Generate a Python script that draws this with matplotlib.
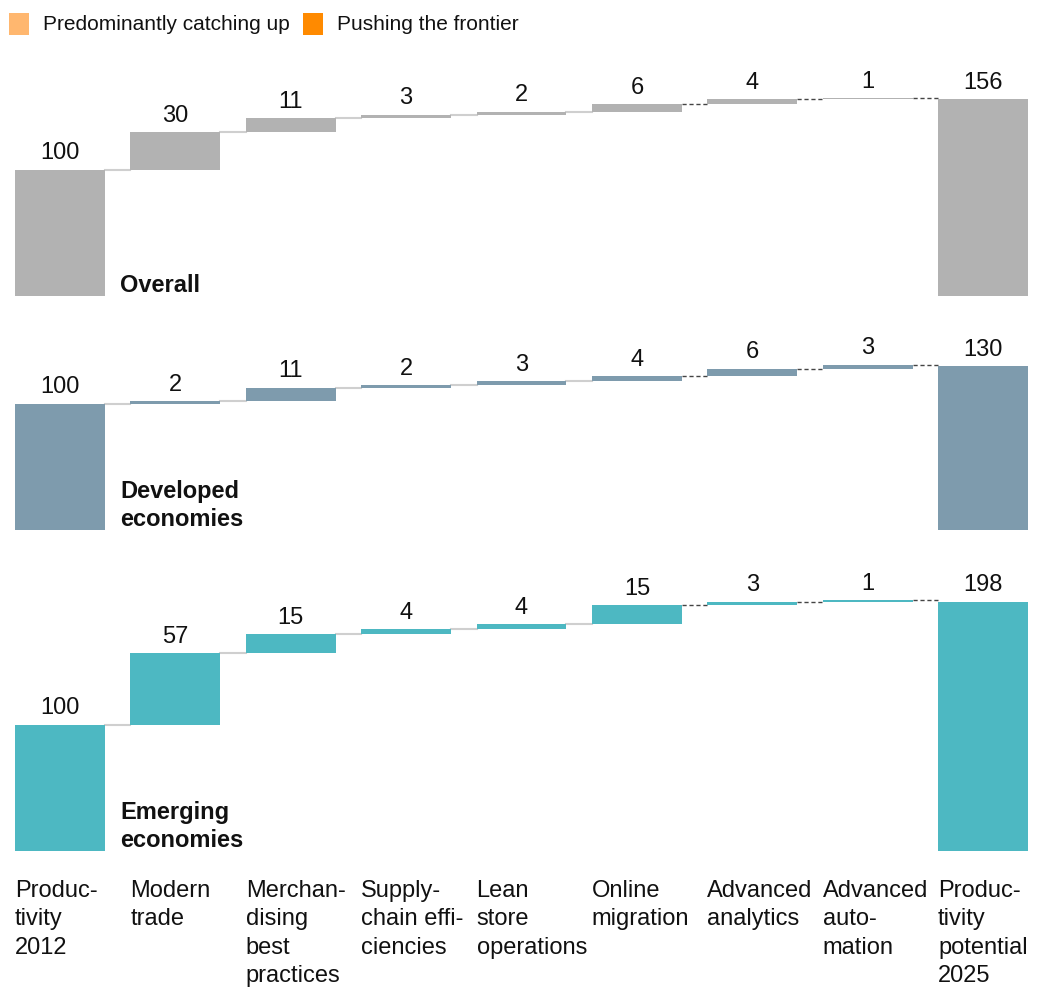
import matplotlib
matplotlib.use("Agg")
import matplotlib.pyplot as plt
from matplotlib.patches import Rectangle

plt.rcParams['font.family'] = ['Liberation Sans', 'DejaVu Sans']

# ---------------- data ----------------
categories = ["Produc-\ntivity\n2012", "Modern\ntrade", "Merchan-\ndising\nbest\npractices",
              "Supply-\nchain effi-\nciencies", "Lean\nstore\noperations", "Online\nmigration",
              "Advanced\nanalytics", "Advanced\nauto-\nmation", "Produc-\ntivity\npotential\n2025"]
panel_names = ["Overall", "Developed\neconomies", "Emerging\neconomies"]
start_values = [100, 100, 100]
overall_deltas = [30, 11, 3, 2, 6, 4, 1]
developed_deltas = [2, 11, 2, 3, 4, 6, 3]
emerging_deltas = [57, 15, 4, 4, 15, 3, 1]
end_values = [156, 130, 198]
panel_colors = ["#b2b2b2", "#7e9bad", "#4db8c2"]
legend_labels = ["Predominantly catching up", "Pushing the frontier"]
legend_colors = ["#ffb76f", "#ff8a00"]
frontier_start = 5  # connectors from this index onward are dashed

deltas_all = [overall_deltas, developed_deltas, emerging_deltas]

# ---------------- layout (pixels) ----------------
W, H = 1048, 990
fig = plt.figure(figsize=(W / 100, H / 100), dpi=100)
px_per_unit = 1.26
ax_left_px = 2.3
ax_width_px = 1038.4
panel_bottoms_px = [296, 530, 851]   # from top
panel_ymax = [180, 152, 222]
bar_w = 0.78
fs = 17

axes = []
for p in range(3):
    hpx = panel_ymax[p] * px_per_unit
    bottom = (H - panel_bottoms_px[p]) / H
    ax = fig.add_axes([ax_left_px / W, bottom, ax_width_px / W, hpx / H])
    ax.set_xlim(-0.5, 8.5)
    ax.set_ylim(0, panel_ymax[p])
    ax.axis("off")
    axes.append(ax)

    color = panel_colors[p]
    deltas = deltas_all[p]
    n = len(deltas) + 2
    bottoms = [0]
    heights = [start_values[p]]
    cum = start_values[p]
    for d in deltas:
        bottoms.append(cum)
        heights.append(d)
        cum += d
    bottoms.append(0)
    heights.append(end_values[p])
    labels = [start_values[p]] + deltas + [end_values[p]]

    for i in range(n):
        ax.add_patch(Rectangle((i - bar_w / 2, bottoms[i]), bar_w, heights[i],
                               facecolor=color, edgecolor="none", zorder=2))
        top = bottoms[i] + heights[i]
        ax.annotate(str(labels[i]), (i, top), xytext=(0, 4), textcoords="offset points",
                    ha="center", va="bottom", fontsize=fs, color="#111111")

    # connectors
    for i in range(n - 1):
        level = bottoms[i] + heights[i]
        x0 = i + bar_w / 2
        x1 = i + 1 - bar_w / 2
        if i >= frontier_start:
            ax.plot([x0, x1], [level, level], color="#444444", lw=1.0,
                    linestyle=(0, (3, 2)), zorder=1)
        else:
            ax.plot([x0, x1], [level, level], color="#cfcfcf", lw=1.5, zorder=1)

    ax.text(0.52, 3.5, panel_names[p], fontsize=fs, fontweight="bold",
            ha="left", va="baseline", color="#111111", linespacing=1.25)

# category labels at bottom
for i, c in enumerate(categories):
    xd = i - bar_w / 2
    xf = (ax_left_px + (xd + 0.5) / 9 * ax_width_px) / W
    fig.text(xf, 1 - 880 / H, c, fontsize=fs, ha="left", va="top",
             linespacing=1.38, color="#111111")

# legend
leg_x = [9, 303]
txt_x = [43, 337]
for k in range(2):
    fig.patches.append(Rectangle((leg_x[k] / W, 1 - 35 / H), 20 / W, 22 / H,
                                 transform=fig.transFigure, facecolor=legend_colors[k],
                                 edgecolor="none"))
    fig.text(txt_x[k] / W, 1 - 25 / H, legend_labels[k], fontsize=15,
             ha="left", va="center", color="#111111")

fig.savefig("out.png", dpi=100)
